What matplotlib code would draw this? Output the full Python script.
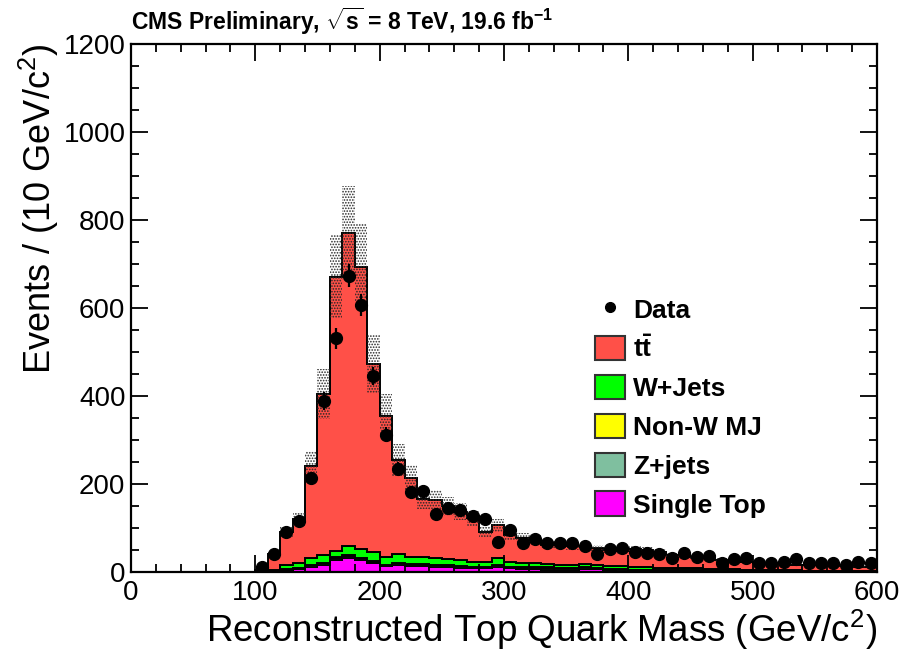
import numpy as np
import matplotlib
matplotlib.use("Agg")
import matplotlib.pyplot as plt
from matplotlib.patches import Patch
from matplotlib.lines import Line2D

plt.rcParams['font.family'] = ['Liberation Sans', 'DejaVu Sans']
plt.rcParams['mathtext.fontset'] = 'custom'
plt.rcParams['mathtext.rm'] = 'Liberation Sans'
plt.rcParams['mathtext.it'] = 'Liberation Sans:italic'
plt.rcParams['mathtext.bf'] = 'Liberation Sans:bold'
plt.rcParams['hatch.linewidth'] = 0.8

# bin low edges (GeV/c^2), 10 GeV bins from 100 to 600
bin_lo = [100, 110, 120, 130, 140, 150, 160, 170, 180, 190,
          200, 210, 220, 230, 240, 250, 260, 270, 280, 290,
          300, 310, 320, 330, 340, 350, 360, 370, 380, 390,
          400, 410, 420, 430, 440, 450, 460, 470, 480, 490,
          500, 510, 520, 530, 540, 550, 560, 570, 580, 590]

data = [12, 40, 92, 116, 213, 389, 531, 673, 607, 445,
        312, 234, 182, 184, 131, 145, 141, 127, 121, 69,
        95, 67, 75, 65, 67, 65, 58, 41, 52, 54,
        46, 44, 40, 31, 44, 33, 37, 21, 29, 31,
        21, 20, 22, 29, 20, 20, 21, 17, 22, 20]

ttbar = [4, 35, 75, 99, 210, 366, 623, 712, 642, 427,
         320, 213, 178, 132, 132, 120, 110, 99, 67, 75,
         61, 57, 56, 44, 45, 42, 39, 37, 36, 35,
         40, 39, 36, 30, 31, 27, 24, 21, 20, 18,
         16, 16, 16, 13, 13, 13, 11, 11, 10, 10]

wjets = [1, 2, 10, 12, 15, 18, 15, 20, 20, 21,
         18, 21, 17, 17, 15, 14, 13, 12, 12, 15,
         11, 9, 9, 7, 7, 8, 7, 7, 7, 7,
         7, 6, 5, 5, 4, 4, 4, 4, 4, 3,
         3, 2, 2, 2, 1, 1, 1, 1, 1, 1]

nonw = [0, 0, 1, 1, 1, 1, 1, 2, 1, 1,
        1, 1, 1, 1, 1, 1, 1, 1, 1, 1,
        1, 1, 1, 1, 1, 0, 1, 1, 0, 0,
        0, 0, 0, 0, 0, 0, 0, 0, 0, 0,
        0, 0, 0, 0, 0, 0, 0, 0, 0, 0]

zjets = [0, 1, 2, 2, 3, 3, 4, 4, 4, 3,
         3, 3, 3, 3, 3, 3, 3, 2, 2, 4,
         3, 3, 4, 5, 3, 3, 4, 3, 3, 3,
         2, 2, 2, 2, 2, 2, 1, 1, 1, 1,
         1, 1, 1, 1, 1, 1, 1, 1, 1, 1]

singletop = [0, 2, 4, 6, 12, 17, 28, 32, 27, 20,
             13, 17, 14, 14, 12, 11, 10, 8, 8, 11,
             8, 7, 6, 5, 5, 5, 7, 6, 4, 3,
             3, 3, 3, 2, 2, 2, 2, 1, 1, 1,
             1, 1, 1, 1, 1, 1, 1, 1, 0, 0]

# MC systematic band (absolute, events)
mc_unc = [1, 6, 13, 17, 34, 57, 94, 107, 97, 66,
          50, 36, 30, 23, 23, 21, 19, 17, 13, 15,
          12, 11, 11, 9, 9, 8, 8, 8, 7, 7,
          7, 7, 6, 5, 5, 5, 4, 4, 4, 3,
          3, 3, 3, 2, 2, 2, 2, 2, 2, 2]

bw = 10
edges = np.append(np.array(bin_lo, float), bin_lo[-1] + bw)
centers = np.array(bin_lo, float) + bw / 2.

fig = plt.figure(figsize=(9.07, 6.52), dpi=100)
ax = fig.add_axes([0.1444, 0.1227, 0.8225, 0.8098])

# stack, bottom -> top
layers = [(singletop, '#ff00ff', 'Single Top'),
          (zjets, '#7fbf9f', 'Z+jets'),
          (nonw, '#ffff00', 'Non-W MJ'),
          (wjets, '#00ff00', 'W+Jets'),
          (ttbar, '#ff5048', r'$\mathbf{t\bar{t}}$')]

base = np.zeros(len(bin_lo))
for vals, col, lab in layers:
    top = base + np.array(vals, float)
    ax.stairs(top, edges, baseline=base, fill=True, color=col, lw=0)
    ax.stairs(top, edges, baseline=base, fill=False, color='black', lw=1.4)
    base = top
total = base

unc = np.array(mc_unc, float)
lo = np.append(total - unc, (total - unc)[-1])
hi = np.append(total + unc, (total + unc)[-1])
ax.fill_between(edges, lo, hi, step='post', facecolor='none',
                edgecolor='0.15', hatch='......', linewidth=0)

d = np.array(data, float)
ax.errorbar(centers, d, yerr=np.sqrt(d), fmt='o', color='black',
            markersize=8.5, elinewidth=1.6, capsize=0, zorder=5)

ax.set_xlim(0, 600)
ax.set_ylim(0, 1200)
ax.set_xticks(np.arange(0, 601, 100))
ax.set_xticks(np.arange(0, 601, 20), minor=True)
ax.set_yticks(np.arange(0, 1201, 200))
ax.set_yticks(np.arange(0, 1201, 50), minor=True)
ax.tick_params(which='both', direction='in', top=True, right=True, width=1.3)
ax.tick_params(which='major', length=12, labelsize=20)
ax.tick_params(which='minor', length=6)
ax.tick_params(axis='x', pad=6)
ax.tick_params(axis='y', pad=4)
for s in ax.spines.values():
    s.set_linewidth(1.6)

ax.set_xlabel(r'Reconstructed Top Quark Mass (GeV/c$^{2}$)', fontsize=26.5,
              loc='right', labelpad=1)
ax.set_ylabel(r'Events / (10 GeV/c$^{2}$)', fontsize=26, loc='top', labelpad=2)

fig.text(0.1444, 0.943, r'CMS Preliminary, $\sqrt{\mathbf{s}}$ = 8 TeV, 19.6 fb$^{\mathbf{-1}}$',
         fontsize=16.5, fontweight='bold', ha='left', va='bottom')

handles = [Line2D([], [], marker='o', color='black', ls='none', markersize=7)]
labels = ['Data']
for vals, col, lab in layers[::-1]:
    handles.append(Patch(facecolor=col, edgecolor='#333333', lw=1.5))
    labels.append(lab)
leg = ax.legend(handles, labels, loc='upper left', bbox_to_anchor=(0.622, 0.522),
                frameon=False, borderpad=0, borderaxespad=0,
                prop={'weight': 'bold', 'size': 19},
                handlelength=1.15, handleheight=1.05, labelspacing=0.48,
                handletextpad=0.3)

fig.savefig('out.png', dpi=100)
